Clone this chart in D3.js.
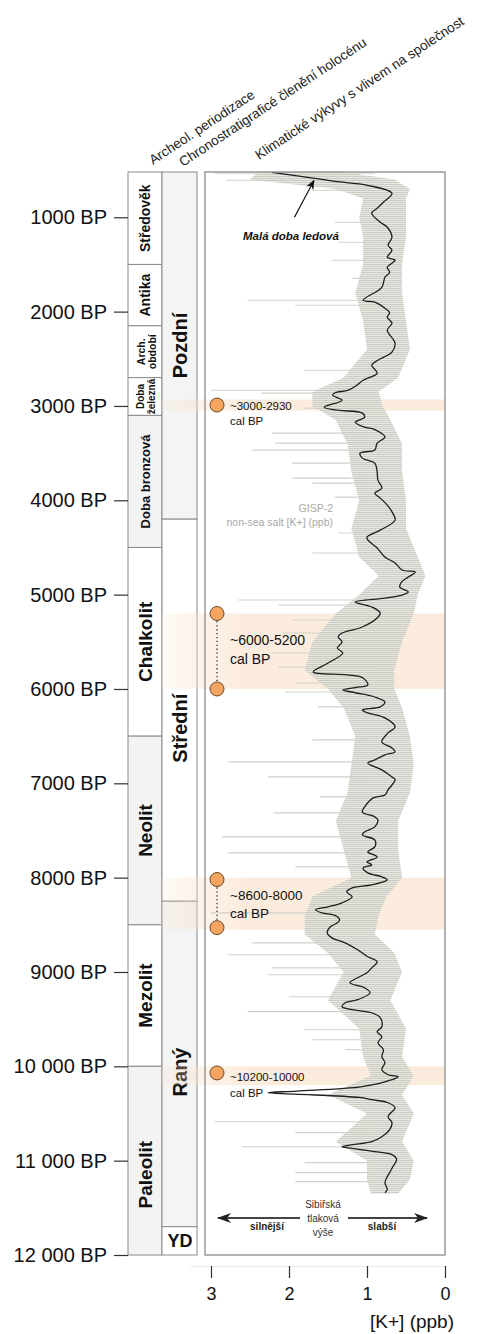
<!DOCTYPE html>
<html>
<head>
<meta charset="utf-8">
<script src="https://cdn.jsdelivr.net/npm/d3@7"></script>
<style>
body { margin: 0; background: #fff; }
svg { display: block; font-family: "Liberation Sans", Arial, sans-serif; }
</style>
</head>
<body>
<svg id="chart" width="477" height="1334"></svg>
<script>
// ---- data ----
const yTicks = [1000, 2000, 3000, 4000, 5000, 6000, 7000, 8000, 9000, 10000, 11000, 12000];
const yTickLabels = ["1000 BP", "2000 BP", "3000 BP", "4000 BP", "5000 BP", "6000 BP", "7000 BP",
    "8000 BP", "9000 BP", "10 000 BP", "11 000 BP", "12 000 BP"];
const xTicks = [3, 2, 1, 0];

const archeolNames = ["Středověk", "Antika", "Arch.|období", "Doba|železná", "Doba bronzová",
    "Chalkolit", "Neolit", "Mezolit", "Paleolit"];
const archeolEdges = [520, 1500, 2150, 2700, 3100, 4500, 6500, 8500, 10000, 12000];

const chronoNames = ["Pozdní", "Střední", "Raný", "YD"];
const chronoEdges = [520, 4200, 8250, 11700, 12000];

// smoothed GISP-2 non-sea salt K+ (black line)
const kAges = [523, 587, 619, 661, 746, 841, 905, 958, 1053, 1106, 1212, 1297, 1350, 1424, 1455, 1530,
    1583, 1636, 1742, 1879, 1900, 1964, 2010, 2059, 2123, 2197, 2335, 2430, 2515, 2568, 2653, 2727,
    2780, 2833, 2860, 2886, 2939, 3013, 3045, 3076, 3119, 3172, 3225, 3250, 3330, 3394, 3468, 3500,
    3553, 3606, 3701, 3786, 3871, 3924, 3977, 4051, 4136, 4210, 4316, 4390, 4420, 4506, 4602, 4665,
    4739, 4761, 4814, 4860, 4919, 4972, 5004, 5036, 5078, 5131, 5195, 5248, 5343, 5407, 5449, 5502,
    5566, 5619, 5725, 5820, 5850, 5883, 5958, 5985, 6011, 6040, 6085, 6138, 6190, 6222, 6254, 6307,
    6403, 6466, 6561, 6625, 6667, 6699, 6752, 6784, 6858, 6932, 6960, 7070, 7123, 7155, 7250, 7303,
    7356, 7388, 7462, 7515, 7547, 7600, 7674, 7727, 7780, 7833, 7864, 7896, 7949, 7991, 8023, 8076,
    8108, 8150, 8203, 8267, 8309, 8341, 8373, 8400, 8447, 8479, 8521, 8585, 8638, 8691, 8765, 8839,
    8892, 8956, 9008, 9061, 9114, 9168, 9220, 9294, 9326, 9369, 9400, 9432, 9485, 9580, 9633, 9686,
    9750, 9824, 9898, 9962, 10036, 10089, 10110, 10142, 10216, 10262, 10280, 10295, 10330, 10354, 10386,
    10438, 10534, 10597, 10672, 10746, 10799, 10831, 10852, 10870, 10905, 10936, 10989, 11064, 11127,
    11169, 11233, 11307, 11339];
const kValues = [2.22, 1.67, 1.41, 0.99, 0.68, 0.79, 0.87, 0.94, 0.83, 0.74, 0.68, 0.73, 0.68, 0.74, 0.64, 0.74,
    0.71, 0.77, 0.81, 1.05, 0.90, 0.77, 0.71, 0.74, 0.68, 0.74, 0.64, 0.68, 0.86, 0.94, 0.87, 1.05,
    1.13, 1.24, 1.41, 1.44, 1.32, 1.55, 1.37, 1.06, 1.03, 1.15, 1.03, 0.90, 0.77, 0.87, 0.90, 1.09,
    1.06, 0.90, 0.87, 0.86, 0.81, 0.90, 0.83, 0.74, 0.67, 0.64, 0.83, 1.00, 0.99, 0.87, 0.77, 0.64,
    0.55, 0.38, 0.47, 0.55, 0.58, 0.47, 0.55, 0.77, 1.15, 0.94, 0.83, 0.87, 1.06, 1.32, 1.37, 1.32,
    1.38, 1.31, 1.50, 1.69, 1.25, 1.05, 0.99, 1.15, 1.31, 1.15, 0.90, 0.77, 0.83, 1.06, 0.99, 0.77,
    0.64, 0.73, 0.81, 0.68, 0.64, 0.77, 0.90, 0.99, 0.81, 0.68, 0.64, 0.73, 0.77, 0.92, 1.03, 1.06,
    0.90, 0.86, 0.90, 1.03, 1.06, 0.90, 0.90, 0.99, 0.87, 1.00, 0.94, 1.05, 0.99, 0.81, 0.74, 0.94,
    1.19, 1.26, 1.19, 1.32, 1.50, 1.66, 1.58, 1.41, 1.35, 1.38, 1.47, 1.51, 1.45, 1.28, 1.12, 0.99,
    0.87, 0.94, 1.00, 1.12, 1.22, 1.03, 0.96, 1.12, 1.28, 1.32, 1.19, 0.94, 0.83, 0.81, 0.87, 0.81,
    0.86, 0.79, 0.81, 0.77, 0.81, 0.73, 0.60, 0.68, 1.06, 1.90, 2.27, 1.92, 1.10, 0.94, 0.73,
    0.64, 0.73, 0.68, 0.71, 0.81, 0.94, 1.19, 1.32, 1.19, 0.90, 0.68, 0.62, 0.67, 0.71,
    0.74, 0.77, 0.74, 0.77];

// envelope of the raw annual values (grey band)
const rawAges = [520, 600, 700, 800, 1000, 1200, 1500, 1800, 2100, 2400, 2700, 2850, 3000, 3150, 3400, 3700,
    4000, 4300, 4600, 4800, 5000, 5200, 5500, 5800, 6000, 6200, 6500, 6800, 7100, 7400, 7700, 8000,
    8200, 8400, 8600, 8800, 9000, 9300, 9600, 9900, 10100, 10300, 10500, 10800, 11000, 11200, 11350];
const rawHigh = [2.4, 2.5, 1.4, 1.05, 1.1, 1.05, 1.05, 1.15, 1.05, 1.0, 1.3, 1.7, 1.7, 1.4, 1.25, 1.2,
    1.1, 1.2, 1.1, 0.85, 1.1, 1.4, 1.7, 1.8, 1.5, 1.3, 1.15, 1.2, 1.25, 1.4, 1.3, 1.2,
    1.7, 1.8, 1.8, 1.5, 1.3, 1.5, 1.1, 1.05, 0.95, 1.5, 1.0, 1.4, 1.0, 1.0, 0.95];
const rawLow = [1.3, 0.65, 0.45, 0.5, 0.5, 0.5, 0.55, 0.55, 0.5, 0.45, 0.6, 0.85, 0.8, 0.7, 0.55, 0.55,
    0.5, 0.5, 0.35, 0.25, 0.35, 0.4, 0.55, 0.65, 0.65, 0.55, 0.45, 0.4, 0.45, 0.6, 0.6, 0.55,
    0.75, 0.85, 0.9, 0.65, 0.55, 0.7, 0.5, 0.55, 0.4, 0.55, 0.4, 0.55, 0.4, 0.45, 0.6];

// single high raw values reaching far left
const spikeAges = [534, 608, 714, 1053, 1265, 1455, 1646, 1879, 1932, 2621, 2833, 2864, 3023, 3288, 3394,
    3468, 3606, 3765, 3818, 3966, 4347, 4559, 5057, 5110, 5269, 5407, 5619, 5767, 5936, 6032, 6190,
    6540, 6773, 6932, 7144, 7313, 7568, 7737, 7886, 8373, 8691, 8818, 8956, 9030, 9262, 9420, 9612,
    9718, 9824, 10587, 10703, 10852, 11021, 11127, 11222];
const spikeValues = [2.95, 2.8, 1.7, 1.41, 1.37, 1.45, 1.19, 2.53, 1.92, 1.8, 3.0, 2.35, 1.8, 2.22, 2.18,
    2.47, 1.96, 1.96, 1.7, 1.41, 1.37, 1.7, 2.65, 2.14, 1.96, 2.09, 2.22, 2.14, 1.92, 2.05, 1.63,
    1.7, 2.78, 2.27, 1.6, 2.2, 2.86, 2.78, 1.92, 3.0, 2.47, 2.78, 2.22, 2.27, 2.0, 2.53, 1.8,
    1.7, 1.28, 2.95, 1.92, 2.6, 1.8, 1.92, 1.92];

// climatic events
const eventRanges = [[2930, 3050], [5200, 6000], [8000, 8550], [10000, 10200]];
const eventLabels = ["~3000-2930", "~6000-5200", "~8600-8000", "~10200-10000"];
const eventMarks = [[2990], [5200, 6000], [8020, 8530], [10070]];
const eventLabelAges = [3000, 5480, 8185, 10115];

// ---- layout / styles ----
const svg = d3.select("#chart");
const plotL = 205, plotR = 445, plotT = 172, plotB = 1255;
const col1 = [128, 162], col2 = [162, 197];
const archeolFill = ["#fff", "#fff", "#fff", "#fff", "#f3f3f3", "#fff", "#f3f3f3", "#fff", "#f3f3f3"];
const archeolFont = [14, 14, 10.5, 10, 13, 19, 19, 19, 19];
const chronoFill = ["#f4f4f4", "#fff", "#f4f4f4", "#fff"];
const eventFont = [11.5, 14, 13.5, 11.5];

const y = d3.scaleLinear().domain([520, 12000]).range([plotT, plotB]);
const x = d3.scaleLinear().domain([3, 0]).range([211, 445]);

const defs = svg.append("defs");
const grad = defs.append("linearGradient").attr("id", "bandGrad")
    .attr("gradientUnits", "userSpaceOnUse").attr("x1", 160).attr("x2", plotR).attr("y1", 0).attr("y2", 0);
grad.append("stop").attr("offset", 0).attr("stop-color", "#f9dfc6").attr("stop-opacity", 0.15);
grad.append("stop").attr("offset", 0.3).attr("stop-color", "#f9dfc6").attr("stop-opacity", 0.6);
grad.append("stop").attr("offset", 1).attr("stop-color", "#f9dfc6").attr("stop-opacity", 0.6);

const pat = defs.append("pattern").attr("id", "rawPat").attr("patternUnits", "userSpaceOnUse")
    .attr("width", 9).attr("height", 2);
pat.append("rect").attr("width", 9).attr("height", 2).attr("fill", "#e6e6e0");
pat.append("rect").attr("width", 9).attr("height", 1).attr("fill", "#c6c6bd");

defs.append("marker").attr("id", "head").attr("viewBox", "0 0 10 8").attr("refX", 9).attr("refY", 4)
    .attr("markerWidth", 10).attr("markerHeight", 8).attr("markerUnits", "userSpaceOnUse").attr("orient", "auto")
    .append("path").attr("d", "M0,0 L10,4 L0,8 L3,4 Z").attr("fill", "#111");
defs.append("marker").attr("id", "head2").attr("viewBox", "0 0 14 10").attr("refX", 13).attr("refY", 5)
    .attr("markerWidth", 14).attr("markerHeight", 10).attr("markerUnits", "userSpaceOnUse").attr("orient", "auto")
    .append("path").attr("d", "M0,0 L14,5 L0,10 L4,5 Z").attr("fill", "#222");

// ---- column headers ----
const headers = [
    ["Archeol. periodizace", 153, 165],
    ["Chronostratigraficé členění holocénu", 183, 167],
    ["Klimatické výkyvy s vlivem na společnost", 259, 160]
];
svg.append("g").selectAll("text").data(headers).join("text")
    .attr("transform", d => `translate(${d[1]},${d[2]}) rotate(-33.5)`)
    .attr("font-size", 13.6).attr("fill", "#222").text(d => d[0]);

// ---- archeological periods ----
const g1 = svg.append("g");
g1.selectAll("rect").data(archeolNames).join("rect")
    .attr("x", col1[0]).attr("width", col1[1] - col1[0])
    .attr("y", (d, i) => y(archeolEdges[i]))
    .attr("height", (d, i) => y(archeolEdges[i + 1]) - y(archeolEdges[i]))
    .attr("fill", (d, i) => archeolFill[i]).attr("stroke", "#8a8a8a").attr("stroke-width", 1);

archeolNames.forEach((name, i) => {
    const cy = (y(archeolEdges[i]) + y(archeolEdges[i + 1])) / 2 + (name === "Paleolit" ? 14 : 0);
    const lines = name.split("|");
    const cx = (col1[0] + col1[1]) / 2;
    const offs = lines.length === 1 ? [0] : [-4.5, 6.5];
    lines.forEach((ln, j) => {
        g1.append("text")
            .attr("transform", `translate(${cx + offs[j]},${cy}) rotate(-90)`)
            .attr("text-anchor", "middle").attr("dominant-baseline", "central")
            .attr("font-weight", "bold").attr("font-size", archeolFont[i]).attr("fill", "#111")
            .text(ln);
    });
});

// ---- chronostratigraphy ----
const g2 = svg.append("g");
g2.selectAll("rect").data(chronoNames).join("rect")
    .attr("x", col2[0]).attr("width", col2[1] - col2[0])
    .attr("y", (d, i) => y(chronoEdges[i]))
    .attr("height", (d, i) => y(chronoEdges[i + 1]) - y(chronoEdges[i]))
    .attr("fill", (d, i) => chronoFill[i]).attr("stroke", "#8a8a8a").attr("stroke-width", 1);

chronoNames.forEach((name, i) => {
    const shift = name === "Střední" ? 18 : name === "Raný" ? 8 : 0;
    const cy = (y(chronoEdges[i]) + y(chronoEdges[i + 1])) / 2 + shift;
    const cx = (col2[0] + col2[1]) / 2 + 0.5;
    g2.append("text")
        .attr("transform", name === "YD" ? `translate(${cx},${cy})` : `translate(${cx},${cy}) rotate(-90)`)
        .attr("text-anchor", "middle").attr("dominant-baseline", "central")
        .attr("font-weight", "bold").attr("font-size", name === "YD" ? 18 : 20).attr("fill", "#111")
        .text(name);
});

// ---- left age axis ----
const ageAxis = svg.append("g").attr("transform", `translate(${col1[0]},0)`)
    .call(d3.axisLeft(y).tickValues(yTicks).tickFormat((d, i) => yTickLabels[i]).tickSize(14).tickPadding(7));
ageAxis.select(".domain").remove();
ageAxis.selectAll("line").attr("stroke", "#333").attr("stroke-width", 1.2);
ageAxis.selectAll("text").attr("font-size", 20).attr("fill", "#111")
    .attr("font-family", "'Liberation Sans', Arial, sans-serif");

// ---- plot panel ----
svg.append("rect").attr("x", plotL).attr("y", plotT).attr("width", plotR - plotL).attr("height", plotB - plotT)
    .attr("fill", "#fff");

// event bands
svg.append("g").selectAll("rect").data(eventRanges).join("rect")
    .attr("x", 160).attr("width", plotR - 160)
    .attr("y", d => y(d[0])).attr("height", d => y(d[1]) - y(d[0]))
    .attr("fill", "url(#bandGrad)");

// raw data: spikes then dense envelope
svg.append("g").attr("stroke", "#d2d2cb").attr("stroke-width", 1.1)
    .selectAll("line").data(spikeAges).join("line")
    .attr("x1", (d, i) => x(spikeValues[i])).attr("x2", x(0.9))
    .attr("y1", d => y(d)).attr("y2", d => y(d));

const rawArea = d3.area()
    .y(d => y(d))
    .x0((d, i) => x(rawHigh[i]))
    .x1((d, i) => x(rawLow[i]));
svg.append("path").datum(rawAges).attr("d", rawArea).attr("fill", "url(#rawPat)").attr("opacity", 0.9);

// smoothed line
const kLine = d3.line().curve(d3.curveCatmullRom.alpha(0.5))
    .x((d, i) => x(kValues[i])).y(d => y(d));
svg.append("path").datum(kAges).attr("d", kLine)
    .attr("fill", "none").attr("stroke", "#1e1e1e").attr("stroke-width", 1.3);

svg.append("rect").attr("x", plotL).attr("y", plotT).attr("width", plotR - plotL).attr("height", plotB - plotT)
    .attr("fill", "none").attr("stroke", "#8c8c8c").attr("stroke-width", 1.3);

// event markers
const markX = 217;
const ev = svg.append("g");
eventMarks.forEach(m => {
    if (m.length > 1) {
        ev.append("line").attr("x1", markX).attr("x2", markX).attr("y1", y(m[0])).attr("y2", y(m[1]))
            .attr("stroke", "#333").attr("stroke-width", 1.3).attr("stroke-dasharray", "1.3,2.6");
    }
    m.forEach(a => {
        ev.append("circle").attr("cx", markX).attr("cy", y(a)).attr("r", 7)
            .attr("fill", "#f5a55f").attr("stroke", "#6b4a2c").attr("stroke-width", 1);
    });
});
eventLabels.forEach((lab, i) => {
    const cy = y(eventLabelAges[i]);
    const fs = eventFont[i];
    ev.append("text").attr("x", 230).attr("y", cy).attr("dominant-baseline", "central")
        .attr("font-size", fs).attr("fill", "#111").text(lab);
    ev.append("text").attr("x", 230).attr("y", cy + fs * 1.35).attr("dominant-baseline", "central")
        .attr("font-size", fs).attr("fill", "#111").text("cal BP");
});

// GISP-2 caption
svg.append("text").attr("x", 333).attr("y", 512).attr("text-anchor", "end")
    .attr("font-size", 10.5).attr("fill", "#a8a8a8").text("GISP-2");
svg.append("text").attr("x", 333).attr("y", 526).attr("text-anchor", "end")
    .attr("font-size", 10.5).attr("fill", "#a8a8a8").text("non-sea salt [K+] (ppb)");

// Little Ice Age annotation
svg.append("line").attr("x1", x(1.93)).attr("y1", y(1000)).attr("x2", x(1.68)).attr("y2", y(610))
    .attr("stroke", "#111").attr("stroke-width", 1.2).attr("marker-end", "url(#head)");
svg.append("text").attr("x", 243).attr("y", 240).attr("font-size", 11.5).attr("font-weight", "bold")
    .attr("font-style", "italic").attr("fill", "#111").text("Malá doba ledová");

// Siberian High arrow
const ay = plotB - 37;
svg.append("line").attr("x1", 300).attr("x2", 218).attr("y1", ay).attr("y2", ay)
    .attr("stroke", "#444").attr("stroke-width", 1.8).attr("marker-end", "url(#head2)");
svg.append("line").attr("x1", 348).attr("x2", 427).attr("y1", ay).attr("y2", ay)
    .attr("stroke", "#444").attr("stroke-width", 1.8).attr("marker-end", "url(#head2)");
["Sibiřská", "tlaková", "výše"].forEach((t, i) => {
    svg.append("text").attr("x", 323).attr("y", ay - 14 + i * 14).attr("dominant-baseline", "central")
        .attr("text-anchor", "middle").attr("font-size", 10).attr("fill", "#333").text(t);
});
svg.append("text").attr("x", 267).attr("y", ay + 8).attr("dominant-baseline", "central")
    .attr("text-anchor", "middle").attr("font-size", 10).attr("font-weight", "bold").attr("fill", "#222").text("silnější");
svg.append("text").attr("x", 382).attr("y", ay + 8).attr("dominant-baseline", "central")
    .attr("text-anchor", "middle").attr("font-size", 10).attr("font-weight", "bold").attr("fill", "#222").text("slabší");

// ---- bottom value axis ----
const kAxis = svg.append("g").attr("transform", `translate(0,${plotB + 11})`)
    .call(d3.axisBottom(x).tickValues(xTicks).tickFormat(d3.format("d")).tickSize(12).tickPadding(9));
kAxis.select(".domain").attr("stroke", "#ececec").attr("d", `M190,0.5H447`);
kAxis.selectAll("line").attr("stroke", "#333").attr("stroke-width", 1.2);
kAxis.selectAll("text").attr("font-size", 18).attr("fill", "#111")
    .attr("font-family", "'Liberation Sans', Arial, sans-serif");
svg.append("text").attr("x", 454).attr("y", 1328).attr("text-anchor", "end")
    .attr("font-size", 19).attr("fill", "#111").text("[K+] (ppb)");
</script>
</body>
</html>
